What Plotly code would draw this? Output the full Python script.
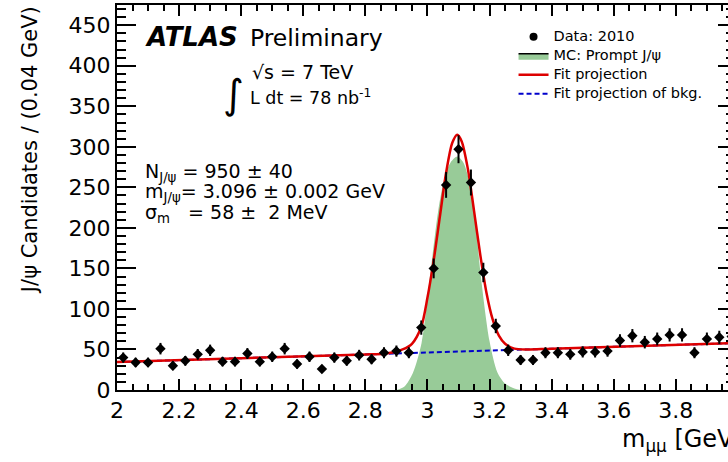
import plotly.graph_objects as go

# ---- data ----
bin_centers = [2.02, 2.06, 2.10, 2.14, 2.18, 2.22, 2.26, 2.30, 2.34, 2.38,
               2.42, 2.46, 2.50, 2.54, 2.58, 2.62, 2.66, 2.70, 2.74, 2.78,
               2.82, 2.86, 2.90, 2.94, 2.98, 3.02, 3.06, 3.10, 3.14, 3.18,
               3.22, 3.26, 3.30, 3.34, 3.38, 3.42, 3.46, 3.50, 3.54, 3.58,
               3.62, 3.66, 3.70, 3.74, 3.78, 3.82, 3.86, 3.90, 3.94, 3.98]
counts = [40, 34, 34, 51, 30, 36, 44, 49, 35, 35,
          45, 35, 41, 51, 32, 41, 26, 40, 36, 43,
          38, 46, 48, 46, 77, 150, 253, 297, 256, 145,
          79, 49, 37, 37, 46, 46, 44, 47, 47, 48,
          61, 67, 59, 63, 68, 68, 46, 63, 65, 66]
count_err = [6.3, 5.8, 5.8, 7.1, 5.5, 6.0, 6.6, 7.0, 5.9, 5.9,
             6.7, 5.9, 6.4, 7.1, 5.7, 6.4, 5.1, 6.3, 6.0, 6.6,
             6.2, 6.8, 6.9, 6.8, 8.8, 12.2, 15.9, 17.2, 16.0, 12.0,
             8.9, 7.0, 6.1, 6.1, 6.8, 6.8, 6.6, 6.9, 6.9, 6.9,
             7.8, 8.2, 7.7, 7.9, 8.2, 8.2, 6.8, 7.9, 8.1, 8.1]

fit_x = [2.00, 2.40, 2.80, 2.86, 2.89, 2.92, 2.95, 2.98, 3.00, 3.02,
         3.04, 3.06, 3.08, 3.096, 3.11, 3.13, 3.15, 3.17, 3.19, 3.21,
         3.23, 3.25, 3.28, 3.32, 3.40, 4.00]
fit_y = [34.5, 39.2, 43.9, 44.8, 46.5, 50, 57, 78, 114, 160,
         214, 268, 305, 315, 307, 273, 221, 167, 120, 87,
         67, 57, 51, 50, 51, 58]

bkg_x = [2.00, 4.00]
bkg_y = [34.5, 58.0]

mc_x = [2.90, 2.925, 2.953, 2.981, 3.008, 3.035, 3.056, 3.075, 3.096,
        3.115, 3.131, 3.150, 3.172, 3.200, 3.225, 3.250, 3.280, 3.300]
mc_y = [0, 4, 21, 58, 140, 222, 263, 281, 288,
        281, 263, 222, 140, 60, 22, 8, 2, 0]

legend_labels = ["Data: 2010", "MC: Prompt J/\u03c8", "Fit projection",
                 "Fit projection of bkg."]

FONT = "DejaVu Sans"
GREEN = "#98cb98"
RED = "#dd0000"
BLUE = "#0000cc"


def lab(t):
    return '<span style="font-size:14.5px">' + t + '</span>'


fig = go.Figure()

fig.add_trace(go.Scatter(x=mc_x, y=mc_y, mode="lines", line=dict(width=0, shape="spline", smoothing=0.8),
                         fill="tozeroy", fillcolor=GREEN, showlegend=False, hoverinfo="skip"))
fig.add_trace(go.Scatter(x=bkg_x, y=bkg_y, mode="lines", line=dict(color=BLUE, width=2, dash="5px,3px"),
                         name=lab(legend_labels[3]), legendrank=4))
fig.add_trace(go.Scatter(x=fit_x, y=fit_y, mode="lines", line=dict(color=RED, width=2.5, shape="spline", smoothing=0.8),
                         name=lab(legend_labels[2]), legendrank=3))
fig.add_trace(go.Scatter(x=bin_centers, y=counts, mode="markers",
                         marker=dict(symbol="diamond", size=8, color="black"),
                         error_y=dict(type="data", array=count_err, color="black", thickness=2, width=0),
                         showlegend=False))
# legend-only entries
fig.add_trace(go.Scatter(x=[None], y=[None], mode="markers", marker=dict(symbol="circle", size=8, color="black"),
                         name=lab(legend_labels[0]), legendrank=1))
fig.add_trace(go.Scatter(x=[None], y=[None], mode="lines", fill="toself", fillcolor=GREEN,
                         line=dict(color="black", width=1.5), name=lab(legend_labels[1]), legendrank=2))
# right-hand tick axis
fig.add_trace(go.Scatter(x=[None], y=[None], yaxis="y2", showlegend=False, hoverinfo="skip"))

annotations = [
    dict(text='<b><i><span style="font-size:26px">ATLAS</span></i></b>\u00a0\u2009Preliminary',
         x=0.042, y=0.917, xanchor="left", yanchor="middle", font=dict(size=23.5)),
    dict(text="\u221as = 7 TeV", x=0.2177, y=0.826, xanchor="left", yanchor="middle", font=dict(size=19)),
    dict(text="L dt = 78 nb<sup>-1</sup>", x=0.2144, y=0.761, xanchor="left", yanchor="middle", font=dict(size=17.5)),
    dict(text="\u222b", x=0.19, y=0.769, xanchor="center", yanchor="middle", font=dict(size=40)),
    dict(text="N<sub>J/\u03c8</sub> = 950 \u00b1 40", x=0.0425, y=0.566, xanchor="left", yanchor="middle",
         font=dict(size=19)),
    dict(text="m<sub>J/\u03c8</sub>= 3.096 \u00b1 0.002 GeV", x=0.0425, y=0.512, xanchor="left", yanchor="middle",
         font=dict(size=19)),
    dict(text="\u03c3<sub>m</sub>\u00a0\u00a0\u00a0= 58 \u00b1\u00a0 2 MeV", x=0.0425, y=0.458, xanchor="left",
         yanchor="middle", font=dict(size=19)),
    dict(text="J/\u03c8 Candidates / (0.04 GeV)", x=-0.1424, y=0.623, textangle=-90, xanchor="center",
         yanchor="middle", font=dict(size=21)),
    dict(text="m<sub>\u03bc\u03bc</sub> [GeV]", x=0.823, y=-0.13, xanchor="left", yanchor="middle",
         font=dict(size=24)),
]
for a in annotations:
    a.update(xref="paper", yref="paper", showarrow=False)
    a["font"].update(family=FONT, color="black")

fig.update_layout(
    width=728, height=462,
    margin=dict(l=117, r=0, t=5, b=72),
    paper_bgcolor="white", plot_bgcolor="white",
    font=dict(family=FONT, color="black"),
    annotations=annotations,
    showlegend=True,
    legend=dict(x=0.649, y=0.955, xanchor="left", yanchor="top", bgcolor="rgba(0,0,0,0)", borderwidth=0,
                font=dict(family=FONT, size=10.5, color="black"), traceorder="normal", itemwidth=30),
    xaxis=dict(range=[2, 3.968], showgrid=False, zeroline=False, showline=True, linecolor="black", linewidth=2,
               mirror="ticks", ticks="inside", ticklen=11, tickwidth=1.5, tickcolor="black", dtick=0.2, tick0=2,
               tickformat="~g", tickfont=dict(family=FONT, size=22),
               minor=dict(dtick=0.05, ticks="inside", ticklen=6, tickwidth=1.5, tickcolor="black")),
    yaxis=dict(range=[0, 475], showgrid=False, zeroline=False, showline=True, linecolor="black", linewidth=2,
               mirror=False, ticks="inside", ticklen=19, tickwidth=1.5, tickcolor="black", dtick=50, tick0=0,
               tickfont=dict(family=FONT, size=22),
               minor=dict(dtick=10, ticks="inside", ticklen=9, tickwidth=1.5, tickcolor="black")),
    yaxis2=dict(range=[0, 475], overlaying="y", side="right", anchor="free", position=1, showgrid=False,
                zeroline=False, showline=False, showticklabels=False, ticks="inside", ticklen=10, tickwidth=1.5,
                tickcolor="black", dtick=50, tick0=0,
                minor=dict(dtick=10, ticks="inside", ticklen=2, tickwidth=1.5, tickcolor="black")),
)

fig.write_html("out.html", config={"displayModeBar": False},
               post_script="document.body.style.margin='0px';")
